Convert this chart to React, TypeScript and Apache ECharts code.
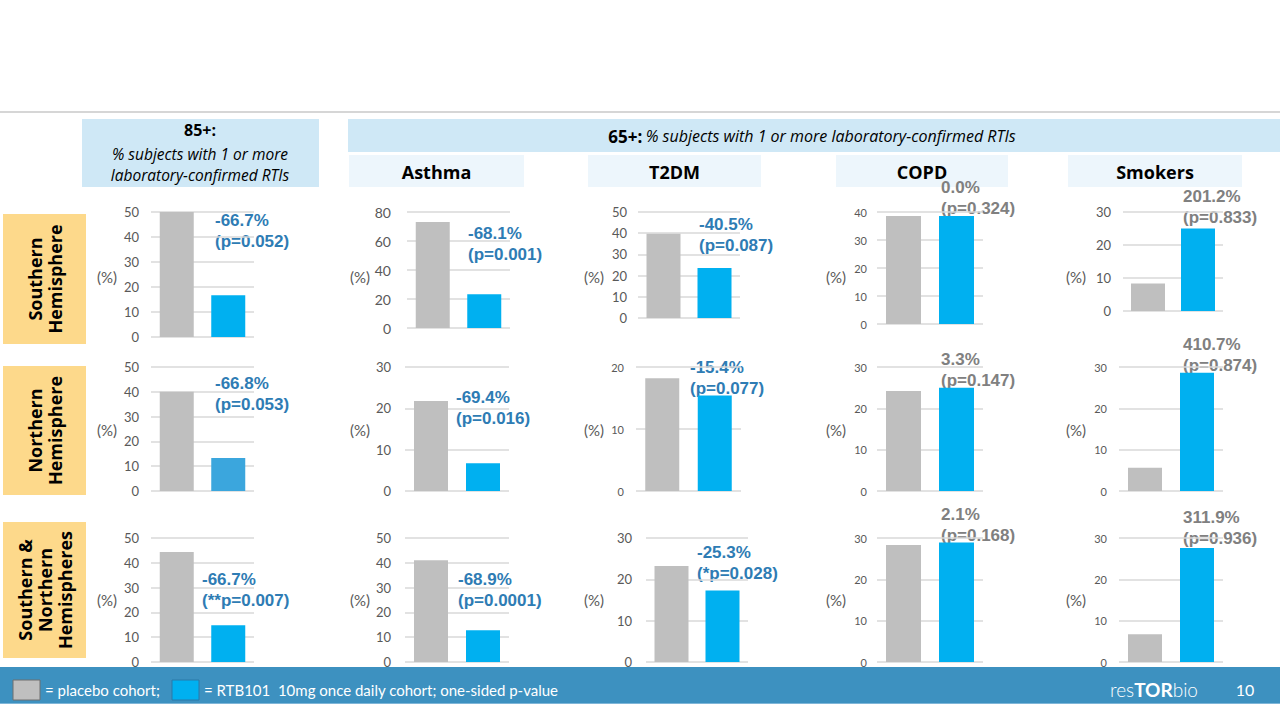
import React, { useEffect, useRef } from "react";
import * as echarts from "echarts";

// ---------- DATA ----------
const rowLabels = ["Southern\nHemisphere", "Northern\nHemisphere", "Southern &\nNorthern\nHemispheres"];
const columnTitles = ["Asthma", "T2DM", "COPD", "Smokers"];
const cohorts = ["Placebo", "RTB101 10mg"];

// % subjects with 1 or more laboratory-confirmed RTIs, [row][column]
// columns: 85+, Asthma, T2DM, COPD, Smokers
const placeboValues = [
  [50.0, 73.1, 39.7, 38.6, 8.3],
  [40.0, 21.8, 18.2, 24.2, 5.6],
  [44.4, 41.0, 23.2, 28.3, 6.7],
];
const rtb101Values = [
  [16.7, 23.3, 23.6, 38.6, 25.0],
  [13.3, 6.7, 15.4, 25.0, 28.6],
  [14.8, 12.8, 17.3, 28.9, 27.6],
];
const changeLabels = [
  ["-66.7%", "-68.1%", "-40.5%", "0.0%", "201.2%"],
  ["-66.8%", "-69.4%", "-15.4%", "3.3%", "410.7%"],
  ["-66.7%", "-68.9%", "-25.3%", "2.1%", "311.9%"],
];
const pValueLabels = [
  ["(p=0.052)", "(p=0.001)", "(p=0.087)", "(p=0.324)", "(p=0.833)"],
  ["(p=0.053)", "(p=0.016)", "(p=0.077)", "(p=0.147)", "(p=0.874)"],
  ["(**p=0.007)", "(p=0.0001)", "(*p=0.028)", "(p=0.168)", "(p=0.936)"],
];
const axisMax = [
  [50, 80, 50, 40, 30],
  [50, 30, 20, 30, 30],
  [50, 50, 30, 30, 30],
];
const axisInterval = [
  [10, 20, 10, 10, 10],
  [10, 10, 10, 10, 10],
  [10, 10, 10, 10, 10],
];
const headerTitle85 = "85+:";
const headerText85 = "% subjects with 1 or more\nlaboratory-confirmed RTIs";

// ---------- LAYOUT / STYLE ----------
const gridBoxes = [
  [[151, 212, 103, 125], [407, 212, 103, 116], [638, 212, 102, 106], [877, 212, 106, 112], [1123, 212, 100, 99]],
  [[151, 367, 103, 124], [405, 367, 104, 124], [636, 367, 105, 124], [877, 367, 106, 124], [1119, 367, 104, 124]],
  [[151, 538, 103, 124], [405, 538, 104, 124], [646, 538, 102, 124], [877, 538, 106, 124], [1119, 538, 104, 124]],
];
const tickFont = [
  [13, 14, 13, 11, 13],
  [13, 13, 11, 11, 11],
  [13, 13, 13, 11, 11],
];
const tickMargin = [
  [12, 16, 11, 10, 12],
  [12, 14, 12, 10, 12],
  [12, 14, 14, 10, 12],
];
const annotPos = [
  [[215, 220], [468, 233], [699, 224], [941, 187], [1183, 196]],
  [[215, 383], [456, 397], [690, 367], [941, 359], [1183, 344]],
  [[202, 579], [458, 579], [697, 552], [941, 514], [1183, 517]],
];
const pctLabelX = [107, 360, 594, 836, 1076];
const pctLabelY = [277, 430, 600];
const rowBoxY = [[214, 344], [366, 495], [522, 658]];
const colTitleBoxes = [[349, 175], [588, 173], [836, 172], [1068, 174]];

const GREY = "#bfbfbf";
const BLUE = "#00b0f0";
const ANNOT_BLUE = "#2e7cb4";
const ANNOT_GREY = "#808080";
const FONT = "'Open Sans', 'DejaVu Sans', sans-serif";
const NUM_FONT = "Lato, 'Liberation Sans', sans-serif";
const ANNOT_FONT = "'Liberation Sans', Arial, sans-serif";

export default function App() {
  const ref = useRef<HTMLDivElement>(null);

  useEffect(() => {
    if (!ref.current) return;
    const chart = echarts.init(ref.current, undefined, { renderer: "svg" });

    const grids: any[] = [];
    const xAxes: any[] = [];
    const yAxes: any[] = [];
    const series: any[] = [];
    const graphics: any[] = [];

    // slide decoration
    graphics.push({ type: "rect", shape: { x: 0, y: 111, width: 1280, height: 2 }, style: { fill: "#d6d6d6" } });
    graphics.push({ type: "rect", shape: { x: 82, y: 119, width: 237, height: 68 }, style: { fill: "#cfe8f6" } });
    graphics.push({
      type: "text", x: 200, y: 130,
      style: { text: headerTitle85, font: `bold 16px ${FONT}`, fill: "#000", align: "center", verticalAlign: "middle" },
    });
    graphics.push({
      type: "text", x: 200, y: 164,
      style: { text: headerText85, font: `italic 15.5px ${FONT}`, lineHeight: 21, fill: "#000", align: "center", verticalAlign: "middle" },
    });
    graphics.push({ type: "rect", shape: { x: 348, y: 119, width: 932, height: 33 }, style: { fill: "#cfe8f6" } });
    graphics.push({
      type: "text", x: 812, y: 136,
      style: {
        text: "{b|65+:} {i|% subjects with 1 or more laboratory-confirmed RTIs}",
        align: "center", verticalAlign: "middle",
        rich: {
          b: { font: `bold 17px ${FONT}`, fill: "#000" },
          i: { font: `italic 16px ${FONT}`, fill: "#000" },
        },
      },
    });
    columnTitles.forEach((t, i) => {
      const [bx, bw] = colTitleBoxes[i];
      graphics.push({ type: "rect", shape: { x: bx, y: 155, width: bw, height: 32 }, style: { fill: "#edf6fc" } });
      graphics.push({
        type: "text", x: bx + bw / 2, y: 172,
        style: { text: t, font: `bold 18px ${FONT}`, fill: "#000", align: "center", verticalAlign: "middle" },
      });
    });
    rowLabels.forEach((t, r) => {
      const [y0, y1] = rowBoxY[r];
      graphics.push({ type: "rect", shape: { x: 3, y: y0, width: 83, height: y1 - y0 }, style: { fill: "#fdd98b" } });
      graphics.push({
        type: "text", x: 45, y: (y0 + y1) / 2, rotation: Math.PI / 2,
        style: { text: t, font: `bold 18px ${FONT}`, lineHeight: 20, fill: "#000", align: "center", verticalAlign: "middle" },
      });
    });

    // charts
    for (let r = 0; r < 3; r++) {
      for (let c = 0; c < 5; c++) {
        const idx = r * 5 + c;
        const [left, top, width, height] = gridBoxes[r][c];
        grids.push({ left, top, width, height, containLabel: false });
        xAxes.push({
          type: "category", gridIndex: idx, data: cohorts,
          axisLine: { show: false }, axisTick: { show: false }, axisLabel: { show: false },
        });
        yAxes.push({
          type: "value", gridIndex: idx, min: 0, max: axisMax[r][c], interval: axisInterval[r][c],
          axisLine: { show: false }, axisTick: { show: false },
          splitLine: { lineStyle: { color: "#d9d9d9", width: 1.5 } },
          axisLabel: { fontSize: tickFont[r][c], color: "#595959", margin: tickMargin[r][c], fontFamily: NUM_FONT },
        });
        const blue = r === 1 && c === 0 ? "#3ba6dd" : BLUE;
        series.push({
          type: "bar", xAxisIndex: idx, yAxisIndex: idx, barWidth: c === 3 ? 35 : 34, silent: true,
          data: [
            { value: placeboValues[r][c], itemStyle: { color: GREY } },
            { value: rtb101Values[r][c], itemStyle: { color: blue } },
          ],
        });
        graphics.push({
          type: "text", x: pctLabelX[c], y: pctLabelY[r],
          style: { text: "(%)", font: `15px ${NUM_FONT}`, fill: "#595959", align: "center", verticalAlign: "middle" },
        });
        const [ax, ay] = annotPos[r][c];
        const col = c >= 3 ? ANNOT_GREY : ANNOT_BLUE;
        graphics.push({
          type: "text", x: ax, y: ay,
          style: { text: changeLabels[r][c], font: `bold 17px ${ANNOT_FONT}`, fill: col, align: "left", verticalAlign: "middle" },
        });
        graphics.push({
          type: "text", x: ax, y: ay + 21,
          style: { text: pValueLabels[r][c], font: `bold 17px ${ANNOT_FONT}`, fill: col, align: "left", verticalAlign: "middle" },
        });
      }
    }

    // footer
    graphics.push({ type: "rect", shape: { x: 0, y: 667, width: 1280, height: 37 }, style: { fill: "#3d91c0" } });
    graphics.push({ type: "rect", shape: { x: 0, y: 703, width: 1280, height: 1 }, style: { fill: "#7fb6d8" } });
    graphics.push({ type: "rect", shape: { x: 13, y: 680, width: 27, height: 20 }, style: { fill: GREY, stroke: "#6f6f6f", lineWidth: 1 } });
    graphics.push({
      type: "text", x: 45, y: 690,
      style: { text: "= placebo cohort;", font: `15px ${NUM_FONT}`, fill: "#fff", align: "left", verticalAlign: "middle" },
    });
    graphics.push({ type: "rect", shape: { x: 172, y: 680, width: 27, height: 20 }, style: { fill: BLUE, stroke: "#2a78a8", lineWidth: 1 } });
    graphics.push({
      type: "text", x: 204, y: 690,
      style: { text: "= RTB101  10mg once daily cohort; one-sided p-value", font: `15px ${NUM_FONT}`, fill: "#fff", align: "left", verticalAlign: "middle" },
    });
    graphics.push({
      type: "text", x: 1110, y: 689,
      style: {
        text: "{n|res}{b|TOR}{n|bio}", align: "left", verticalAlign: "middle",
        rich: {
          n: { font: `300 19px ${NUM_FONT}`, fill: "#fff" },
          b: { font: `bold 19px ${NUM_FONT}`, fill: "#fff" },
        },
      },
    });
    graphics.push({
      type: "text", x: 1245, y: 689,
      style: { text: "10", font: `16px ${NUM_FONT}`, fill: "#fff", align: "center", verticalAlign: "middle" },
    });

    chart.setOption({
      animation: false,
      backgroundColor: "#ffffff",
      grid: grids,
      xAxis: xAxes,
      yAxis: yAxes,
      series,
      graphic: { elements: graphics },
    });

    return () => chart.dispose();
  }, []);

  return <div ref={ref} style={{ position: "fixed", left: 0, top: 0, width: 1280, height: 720 }} />;
}
